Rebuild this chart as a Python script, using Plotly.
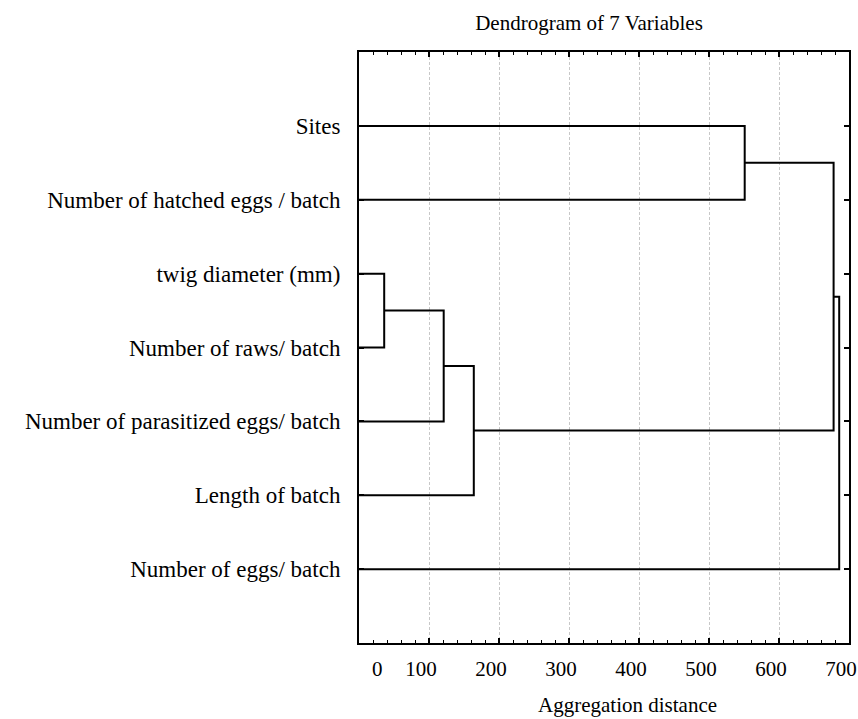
import plotly.graph_objects as go

# Leaves, top to bottom
leaf_labels = [
    "Sites",
    "Number of hatched eggs / batch",
    "twig diameter (mm)",
    "Number of raws/ batch",
    "Number of parasitized eggs/ batch",
    "Length of batch",
    "Number of eggs/ batch",
]
# Merges (scipy-style: leaves 0..6, new clusters 7, 8, ...)
merge_left = [2, 7, 8, 0, 10, 11]
merge_right = [3, 4, 5, 1, 9, 6]
merge_dist = [36, 121, 164, 551, 678, 686]

x_ticks = [0, 100, 200, 300, 400, 500, 600, 700]
x_ticktext = ["\u00a0" * 10 + "0", "100", "200", "300", "400", "500", "600", "700"]

# Build dendrogram segments
pos_y = {i: float(i) for i in range(len(leaf_labels))}
pos_x = {i: 0.0 for i in range(len(leaf_labels))}
xs, ys = [], []
for k, (a, b, d) in enumerate(zip(merge_left, merge_right, merge_dist)):
    new = len(leaf_labels) + k
    xs += [pos_x[a], d, d, pos_x[b], None]
    ys += [pos_y[a], pos_y[a], pos_y[b], pos_y[b], None]
    pos_y[new] = (pos_y[a] + pos_y[b]) / 2
    pos_x[new] = d

FONT = "Liberation Serif"

fig = go.Figure()
fig.add_trace(go.Scatter(
    x=xs, y=ys, mode="lines",
    line=dict(color="black", width=2),
    hoverinfo="skip", showlegend=False,
))

fig.update_layout(
    width=858, height=719,
    margin=dict(l=359, r=9, t=52, b=76),
    paper_bgcolor="white", plot_bgcolor="white",
    font=dict(family=FONT, size=21, color="black"),
    title=dict(
        text="Dendrogram of 7 Variables",
        xref="container", yref="container",
        x=589 / 858, y=1 - 23 / 719,
        xanchor="center", yanchor="middle",
        font=dict(family=FONT, size=21, color="black"),
    ),
    annotations=[dict(
        text="Aggregation distance", xref="paper", yref="paper",
        x=(627 - 359) / 490, y=-(705 - 643) / 591,
        xanchor="center", yanchor="middle", showarrow=False,
        font=dict(family=FONT, size=21, color="black"),
    )],
)

fig.update_xaxes(
    range=[0, 700], automargin=False,
    tickvals=x_ticks, ticktext=x_ticktext,
    ticks="inside", ticklen=5, tickwidth=1.5, tickcolor="black",
    minor=dict(dtick=20, tick0=0, ticks="inside", ticklen=3, tickwidth=1.2,
               tickcolor="black", showgrid=False),
    showline=True, linecolor="black", linewidth=2, mirror="ticks",
    showgrid=True, gridcolor="#c8c8c8", gridwidth=1, griddash="3px,2px",
    zeroline=False,
    tickfont=dict(family=FONT, size=21, color="black"),
    ticklabelshift=-8, ticklabelstandoff=6,
)
fig.update_yaxes(
    range=[len(leaf_labels), -1], automargin=False,
    tickvals=list(range(len(leaf_labels))), ticktext=leaf_labels,
    ticks="inside", ticklen=5, tickwidth=1.5, tickcolor="black",
    showline=True, linecolor="black", linewidth=2, mirror="ticks",
    showgrid=False, zeroline=False,
    tickfont=dict(family=FONT, size=23, color="black"),
    ticklabelstandoff=12,
)

fig.write_html("out.html")
